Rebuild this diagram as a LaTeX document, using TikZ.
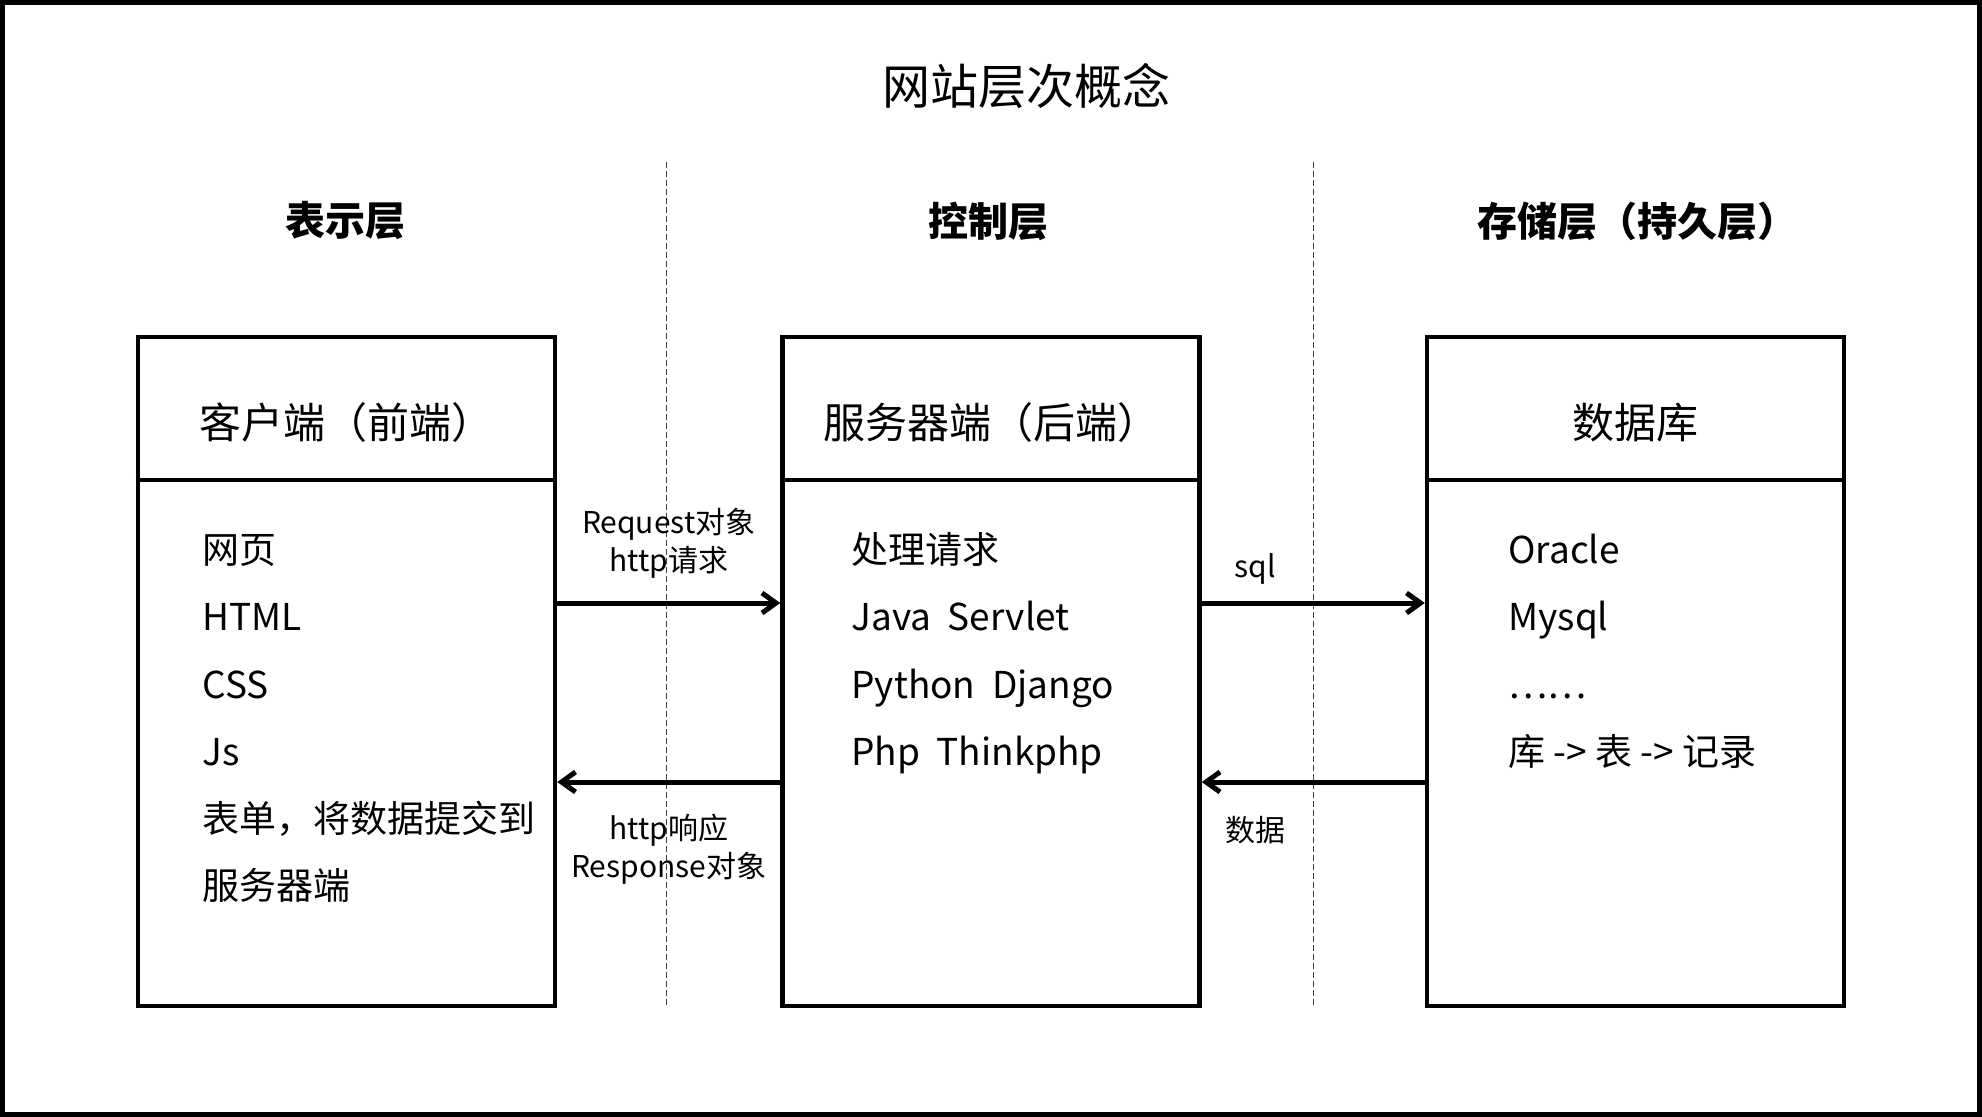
\documentclass[tikz,border=0pt]{standalone}
\usepackage{fontspec}
\setmainfont{Noto Sans CJK SC}
\usetikzlibrary{arrows.meta}

\begin{document}
\begin{tikzpicture}[
    x=0.5pt,y=-0.5pt,
    box/.style={draw, line width=2.2pt, minimum width=208.5pt, minimum height=334.5pt, inner sep=0pt},
    line/.style={line width=2.5pt, -{Straight Barb[length=7pt,width=10pt]}},
    divider/.style={black!75, line width=0.5pt, dash pattern=on 3pt off 1.5pt},
    item/.style={anchor=base west, inner sep=0pt, font=\fontsize{18.5}{22}\selectfont},
    note/.style={inner sep=0pt, align=center, font=\fontsize{15}{19}\selectfont},
    layername/.style={font=\fontsize{20}{24}\selectfont\bfseries},
    head/.style={font=\fontsize{21}{25}\selectfont}
    ]
    \useasboundingbox (0, 0) rectangle (1982, 1117);
    \draw[line width=2.5pt] (2.5, 2.5) rectangle (1979.5, 1114.5);
    \node[font=\fontsize{24}{28}\selectfont] (title) at (1026, 86) {网站层次概念};
    \node[layername] (present) at (345, 221) {表示层};
    \node[layername] (control) at (988, 221) {控制层};
    \node[layername] (storage) at (1637, 221) {存储层（持久层）};
    \foreach \x in {666, 1313}
        \draw[divider] (\x, 162) -- (\x, 1006);
    \node[box] (client) at (346.5, 671.5) {};
    \node[box] (server) at (991, 671.5) {};
    \node[box] (db) at (1635.5, 671.5) {};
    \foreach \b in {client, server, db}
        \draw[line width=2.2pt] ([yshift=-72.5pt]\b.north west) -- ([yshift=-72.5pt]\b.north east);
    \node[head] (chead) at ([yshift=-44pt]client.north) {客户端（前端）};
    \node[head] (shead) at ([yshift=-44pt]server.north) {服务器端（后端）};
    \node[head] (dhead) at ([yshift=-44pt]db.north) {数据库};
    \foreach \t [count=\i] in {网页, HTML, CSS, Js, 表单，将数据提交到, 服务器端}
        \node[item] (c\i) at (202, 497 + 67*\i) {\t};
    \foreach \t [count=\i] in {处理请求, Java~ Servlet, Python~ Django, Php~ Thinkphp}
        \node[item] (s\i) at (851, 497 + 67*\i) {\t};
    \foreach \t [count=\i] in {Oracle, Mysql, ……, 库 -> 表 -> 记录}
        \node[item] (d\i) at (1508, 497 + 67*\i) {\t};
    \draw[line] ([yshift=34.25pt]client.east) -- ([yshift=34.25pt]server.west)
        node[note, midway, above=11pt] (req) {Request对象\\http请求};
    \draw[line] ([yshift=-55.25pt]server.west) -- ([yshift=-55.25pt]client.east)
        node[note, midway, below=15pt] (resp) {http响应\\Response对象};
    \draw[line] ([yshift=34.25pt]server.east) -- ([yshift=34.25pt]db.west)
        node[note, pos=0.24, above=8pt] (sql) {sql};
    \draw[line] ([yshift=-55.25pt]db.west) -- ([yshift=-55.25pt]server.east)
        node[note, pos=0.76, below=16pt] (data) {数据};
\end{tikzpicture}
\end{document}
